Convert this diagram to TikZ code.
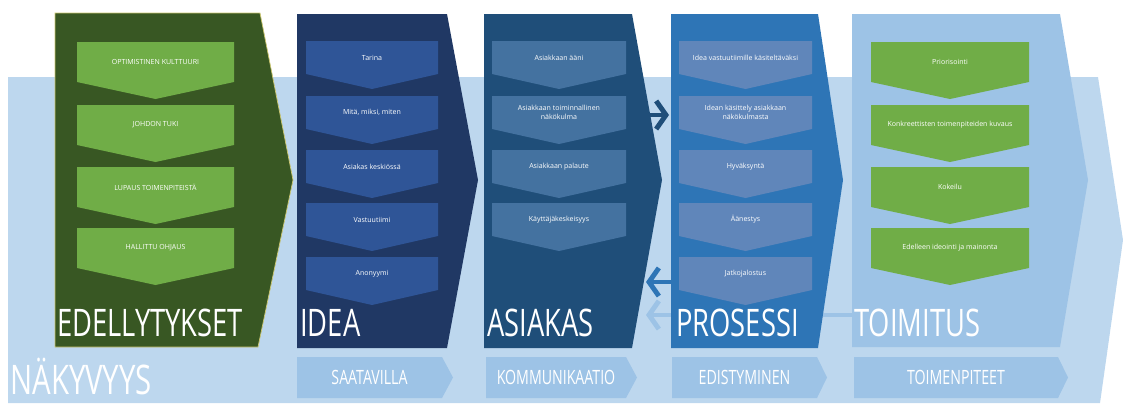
\documentclass[tikz,border=0pt]{standalone}
\usepackage{fontspec}
\setmainfont{Open Sans}
\newfontfamily\slidefont[FakeStretch=0.72]{Open Sans}
\usepackage{xcolor}
\usepackage{tikz}
\usetikzlibrary{arrows.meta}

\definecolor{bandblue}{HTML}{BDD7EE}
\definecolor{paleblue}{HTML}{9DC3E6}
\definecolor{leafgreen}{HTML}{70AD47}
\definecolor{darkgreen}{HTML}{385723}
\definecolor{navy}{HTML}{203864}
\definecolor{navyitem}{HTML}{2F5597}
\definecolor{steel}{HTML}{1F4E79}
\definecolor{steelitem}{HTML}{4472A0}
\definecolor{midblue}{HTML}{2E75B6}
\definecolor{miditem}{HTML}{6086BA}

\tikzset{
	itemtext/.style={text=white,font=\fontsize{5}{6}\selectfont,align=center,inner sep=0pt},
	titletext/.style={text=white,font=\slidefont\fontsize{27}{27}\selectfont,anchor=base west,inner sep=0pt,text depth=0pt},
	subtext/.style={text=white,font=\slidefont\fontsize{14}{14}\selectfont,inner sep=0pt},
	flowarrow/.style={line width=3.5pt,-{Straight Barb[length=7pt,width=20pt]}},
}

% name, fill, left, right, top, body height, point depth, text
\newcommand{\downchev}[8]{%
	\fill[#2] (#3,#5) -- (#4,#5) -- (#4,#5+#6) -- ({(#3+#4)/2},#5+#6+#7) -- (#3,#5+#6) -- cycle;
	\node[itemtext] (#1) at ({(#3+#4)/2},#5+#6/2) {#8};
}
% name, left, right, tip, text
\newcommand{\rightchev}[5]{%
	\fill[paleblue] (#2,357) -- (#3,357) -- (#4,377.5) -- (#3,398) -- (#2,398) -- cycle;
	\node[subtext] (#1) at ({(#2+#3)/2},377.5) {#5};
}

\begin{document}
\begin{tikzpicture}[x=0.025cm,y=-0.025cm]
	\useasboundingbox (0,0) rectangle (1123,403);
	\fill[bandblue] (8,77) -- (1098,77) -- (1123,240) -- (1100,403) -- (8,403) -- cycle;
	\node[titletext,font=\slidefont\fontsize{29}{29}\selectfont] (nakyvyys) at (10,394) {NÄKYVYYS};

	\rightchev{saatavilla}{297}{442}{453}{SAATAVILLA}
	\rightchev{kommunikaatio}{486}{626}{637}{KOMMUNIKAATIO}
	\rightchev{edistyminen}{672}{817}{827}{EDISTYMINEN}
	\rightchev{toimenpiteet}{854}{1058}{1068}{TOIMENPITEET}

	\coordinate (toimitus-back) at (852,315);
	\coordinate (asiakas-back) at (646,315);
	\draw[flowarrow,paleblue] (toimitus-back) -- (asiakas-back);

	% main stages
	\fill[darkgreen,draw=olive!45!white,line width=0.5pt] (55,13) -- (260,13) -- (293,180) -- (258,347) -- (55,347) -- cycle;
	\fill[navy] (297,14) -- (447,14) -- (478,180) -- (447,348) -- (297,348) -- cycle;
	\fill[steel] (484,14) -- (632,14) -- (662,180) -- (632,348) -- (484,348) -- cycle;
	\fill[midblue] (671,14) -- (818,14) -- (843,180) -- (818,348) -- (671,348) -- cycle;
	\fill[paleblue] (852,14) -- (1060,14) -- (1088,180) -- (1060,347) -- (852,347) -- cycle;

	\downchev{kulttuuri}{leafgreen}{77}{234}{42}{40}{17}{OPTIMISTINEN KULTTUURI}
	\downchev{johto}{leafgreen}{77}{234}{105}{40}{17}{JOHDON TUKI}
	\downchev{lupaus}{leafgreen}{77}{234}{167}{40}{17}{LUPAUS TOIMENPITEISTÄ}
	\downchev{ohjaus}{leafgreen}{77}{234}{228}{40}{17}{HALLITTU OHJAUS}

	\downchev{tarina}{navyitem}{306}{438}{41}{33}{15}{Tarina}
	\downchev{mita}{navyitem}{306}{438}{96}{33}{15}{Mitä, miksi, miten}
	\downchev{keskio}{navyitem}{306}{438}{150}{33}{15}{Asiakas keskiössä}
	\downchev{tiimi}{navyitem}{306}{438}{203}{33}{15}{Vastuutiimi}
	\downchev{anonyymi}{navyitem}{306}{438}{257}{33}{15}{Anonyymi}

	\downchev{aani}{steelitem}{492}{626}{41}{33}{15}{Asiakkaan ääni}
	\downchev{nakokulma}{steelitem}{492}{626}{96}{33}{15}{Asiakkaan toiminnallinen\\näkökulma}
	\downchev{palaute}{steelitem}{492}{626}{150}{33}{15}{Asiakkaan palaute}
	\downchev{kayttaja}{steelitem}{492}{626}{203}{33}{15}{Käyttäjäkeskeisyys}

	\downchev{kasiteltava}{miditem}{679}{812}{41}{33}{15}{Idea vastuutiimille käsiteltäväksi}
	\downchev{kasittely}{miditem}{679}{812}{96}{33}{15}{Idean käsittely asiakkaan\\näkökulmasta}
	\downchev{hyvaksynta}{miditem}{679}{812}{150}{33}{15}{Hyväksyntä}
	\downchev{aanestys}{miditem}{679}{812}{203}{33}{15}{Äänestys}
	\downchev{jatko}{miditem}{679}{812}{257}{33}{15}{Jatkojalostus}

	\downchev{priorisointi}{leafgreen}{871}{1029}{42}{40}{17}{Priorisointi}
	\downchev{kuvaus}{leafgreen}{871}{1029}{105}{40}{17}{Konkreettisten toimenpiteiden kuvaus}
	\downchev{kokeilu}{leafgreen}{871}{1029}{167}{40}{17}{Kokeilu}
	\downchev{mainonta}{leafgreen}{871}{1029}{228}{40}{17}{Edelleen ideointi ja mainonta}

	\node[titletext] (edellytykset) at (57,336) {EDELLYTYKSET};
	\node[titletext] (idea) at (300,336) {IDEA};
	\node[titletext] (asiakas) at (487,336) {ASIAKAS};
	\node[titletext] (prosessi) at (676,336) {PROSESSI};
	\node[titletext] (toimitus) at (854,336) {TOIMITUS};

	\coordinate (asiakas-out) at (648,115);
	\coordinate (prosessi-in) at (669,115);
	\coordinate (prosessi-back) at (671,282);
	\coordinate (asiakas-in) at (646,282);
	\draw[flowarrow,steel] (asiakas-out) -- (prosessi-in);
	\draw[flowarrow,midblue] (prosessi-back) -- (asiakas-in);
\end{tikzpicture}
\end{document}
